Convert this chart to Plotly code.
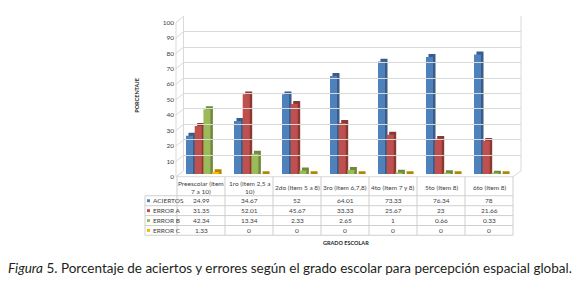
import plotly.graph_objects as go

# ---------------- data ----------------
categories = ["Preescolar (Item<br>7 a 10)", "1ro (Item 2,5 a<br>10)", "2do (Item 5 a 8)",
              "3ro (Item 6,7,8)", "4to (Item 7 y 8)", "5to (Item 8)", "6to (Item 8)"]
series_names = ["ACIERTOS", "ERROR A", "ERROR B", "ERROR C"]
aciertos = [24.99, 34.67, 52, 64.01, 73.33, 76.34, 78]
error_a = [31.35, 52.01, 45.67, 33.33, 25.67, 23, 21.66]
error_b = [42.34, 13.34, 2.33, 2.65, 1, 0.66, 0.33]
error_c = [1.33, 0, 0, 0, 0, 0, 0]
y_ticks = list(range(0, 101, 10))

series_values = [aciertos, error_a, error_b, error_c]
front_colors = ["#4F81BD", "#C0504D", "#9BBB59", "#F5B800"]
dark_colors = ["#385D8A", "#8C3836", "#71893F", "#B58700"]

W, H = 580, 290
def px(x):
    return x / W
def py(y):
    return 1 - y / H

FONT = "Lato"
TXT = "#404040"
GRID = "#d9d9d9"
TLINE = "#cfcfcf"

n = len(categories)
xs = list(range(n))

# geometry (pixels)
X0, X1 = 177, 513            # front floor / table columns
COLW = (X1 - X0) / n          # px per category unit
BX, BXW = 183.5, 521          # back wall
unit = lambda p: p / COLW     # px -> category units
depth_units = 1.9             # 3D top depth in value units

fig = go.Figure()

# bars (dark back face first, front face on top)
for i, (name, vals) in enumerate(zip(series_names, series_values)):
    start = unit(-15 + 8.7 * i)
    w = unit(7)
    fig.add_trace(go.Bar(x=xs, y=[v + depth_units for v in vals], offset=start + unit(2.5), width=w,
                         marker=dict(color=dark_colors[i], line=dict(width=0)),
                         showlegend=False, hoverinfo="skip", xaxis="x", yaxis="y"))
    fig.add_trace(go.Bar(x=xs, y=vals, offset=start, width=w, name=name,
                         marker=dict(color=front_colors[i], line=dict(width=0)),
                         showlegend=False, xaxis="x", yaxis="y"))

# dummy traces to materialise helper axes
fig.add_trace(go.Scatter(x=[0], y=[0], mode="markers", marker=dict(opacity=0),
                         hoverinfo="skip", showlegend=False, xaxis="x2", yaxis="y2"))
fig.add_trace(go.Scatter(x=[0], y=[0], mode="markers", marker=dict(opacity=0),
                         hoverinfo="skip", showlegend=False, xaxis="x", yaxis="y3"))

shapes = []
# left wall diagonal gridlines and edges
yf = lambda v: 177 - 1.58 * v
yb = lambda v: 171 - 1.585 * v
for v in y_ticks:
    shapes.append(dict(type="line", xref="paper", yref="paper",
                       x0=px(176), y0=py(yf(v)), x1=px(BX), y1=py(yb(v)),
                       line=dict(color=GRID, width=1)))
shapes.append(dict(type="line", xref="paper", yref="paper", x0=px(176), y0=py(yf(0)),
                   x1=px(176), y1=py(yf(100)), line=dict(color=GRID, width=1)))
shapes.append(dict(type="line", xref="paper", yref="paper", x0=px(BX), y0=py(yb(0)),
                   x1=px(BX), y1=py(yb(100)), line=dict(color=GRID, width=1)))
shapes.append(dict(type="line", xref="paper", yref="paper", x0=px(BXW), y0=py(yb(0)),
                   x1=px(BXW), y1=py(yb(100)), line=dict(color=GRID, width=1)))
# floor
shapes.append(dict(type="line", xref="paper", yref="paper", x0=px(176), y0=py(177),
                   x1=px(X1), y1=py(177), line=dict(color=GRID, width=1)))
shapes.append(dict(type="line", xref="paper", yref="paper", x0=px(X1), y0=py(177),
                   x1=px(BXW), y1=py(yb(0)), line=dict(color=GRID, width=1)))

# table lines
row_lines = [196.5, 206.7, 216.8, 227, 237]
for yl in row_lines:
    shapes.append(dict(type="line", xref="paper", yref="paper", x0=px(145), y0=py(yl),
                       x1=px(X1), y1=py(yl), line=dict(color=TLINE, width=1)))
for k in range(n + 1):
    xl = X0 + COLW * k
    shapes.append(dict(type="line", xref="paper", yref="paper", x0=px(xl), y0=py(177),
                       x1=px(xl), y1=py(237), line=dict(color=TLINE, width=1)))
shapes.append(dict(type="line", xref="paper", yref="paper", x0=px(145), y0=py(196.5),
                   x1=px(145), y1=py(237), line=dict(color=TLINE, width=1)))

annotations = []
row_centers = [201.6, 211.75, 221.9, 232]
for r, (name, vals) in enumerate(zip(series_names, series_values)):
    yc = row_centers[r]
    shapes.append(dict(type="rect", xref="paper", yref="paper", x0=px(147), x1=px(150),
                       y0=py(yc + 1.5), y1=py(yc - 1.5), line=dict(width=0),
                       fillcolor=front_colors[r]))
    annotations.append(dict(x=px(151), y=py(yc), xref="paper", yref="paper", text=name,
                            showarrow=False, xanchor="left", yanchor="middle",
                            font=dict(family=FONT, size=6.5, color=TXT)))
    for c, v in enumerate(vals):
        annotations.append(dict(x=c, y=py(yc), xref="x", yref="paper", text=f"{v:g}",
                                showarrow=False, xanchor="center", yanchor="middle",
                                font=dict(family=FONT, size=6.5, color=TXT)))
for c, cat in enumerate(categories):
    annotations.append(dict(x=c, y=py(188.5), xref="x", yref="paper", text=cat,
                            showarrow=False, xanchor="center", yanchor="middle",
                            font=dict(family=FONT, size=6.5, color=TXT)))

annotations.append(dict(x=px(346), y=py(244.5), xref="paper", yref="paper",
                        text="<b>GRADO ESCOLAR</b>", showarrow=False,
                        xanchor="center", yanchor="middle",
                        font=dict(family=FONT, size=5.5, color="#262626")))
annotations.append(dict(x=px(137.5), y=py(93.5), xref="paper", yref="paper",
                        text="<b>PORCENTAJE</b>", showarrow=False, textangle=-90,
                        xanchor="center", yanchor="middle",
                        font=dict(family=FONT, size=5.5, color="#262626")))
annotations.append(dict(x=px(290), y=py(271), xref="paper", yref="paper",
                        text="<i>Figura</i> 5. Porcentaje de aciertos y errores según el grado escolar para percepción espacial global.",
                        showarrow=False, xanchor="center", yanchor="middle",
                        font=dict(family=FONT, size=13.5, color="#231f20")))

fig.update_layout(
    width=W, height=H, autosize=False,
    margin=dict(l=0, r=0, t=0, b=0),
    paper_bgcolor="white", plot_bgcolor="rgba(0,0,0,0)",
    barmode="overlay", showlegend=False,
    xaxis=dict(domain=[px(X0), px(X1)], range=[-0.5, n - 0.5], showgrid=False,
               showticklabels=False, zeroline=False, showline=False, ticks="", fixedrange=True),
    yaxis=dict(domain=[py(174.3), py(17.1)], range=[0, 100], showgrid=False,
               showticklabels=False, zeroline=False, showline=False, ticks=""),
    xaxis2=dict(domain=[px(BX), px(BXW)], range=[0, 1], showgrid=False, showticklabels=False,
                zeroline=False, showline=False, anchor="y2"),
    yaxis2=dict(domain=[py(171), py(12.5)], range=[0, 100], tickvals=y_ticks, showgrid=True,
                gridcolor=GRID, gridwidth=1, showticklabels=False, zeroline=False,
                showline=False, anchor="x2"),
    yaxis3=dict(domain=[py(177), py(19)], range=[0, 100], tickvals=y_ticks, showgrid=False,
                showticklabels=True, zeroline=False, showline=False, ticks="",
                anchor="free", position=px(174),
                tickfont=dict(family=FONT, size=6.5, color=TXT)),
    shapes=shapes, annotations=annotations,
)

fig.write_html("out.html", config={"displayModeBar": False},
               post_script="document.body.style.margin='0';document.body.style.overflow='hidden';")
